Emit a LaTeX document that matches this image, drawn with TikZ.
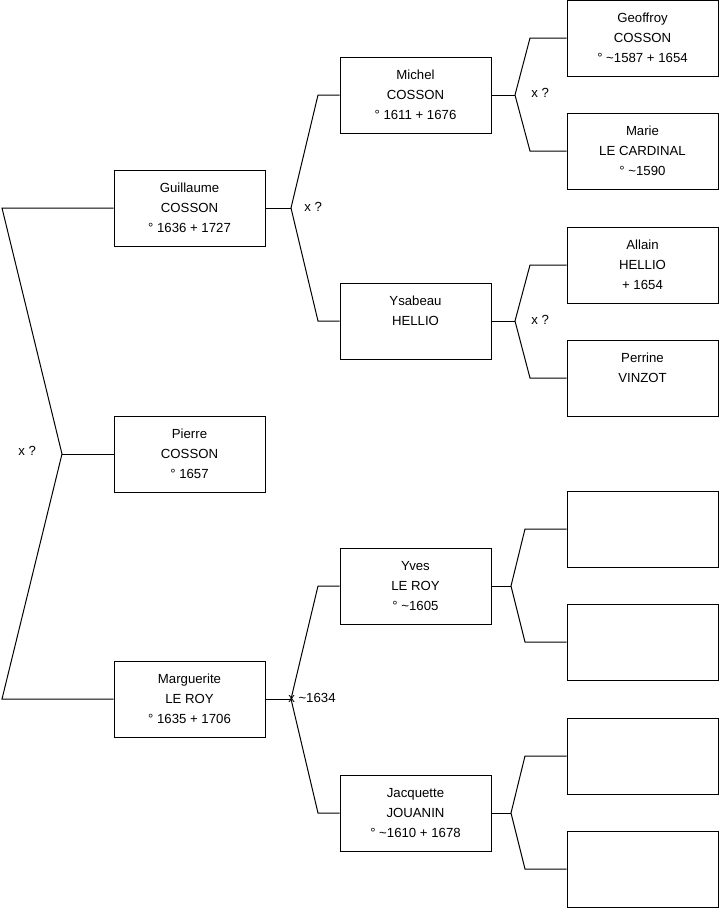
\documentclass[tikz,border=0pt]{standalone}
\usepackage{fontspec}
\setmainfont{Liberation Sans}
\begin{document}
\begin{tikzpicture}[x=0.75pt,y=-0.75pt,
  person/.style={draw=black,line width=0.75pt,fill=white,minimum width=113.25pt,minimum height=57pt,inner sep=0pt,align=center,font=\fontsize{9.9}{15}\selectfont},
  link/.style={draw=black,line width=0.75pt,line join=miter},
  lbl/.style={anchor=west,inner sep=0pt,font=\fontsize{9.9}{12}\selectfont}]
\useasboundingbox (0,0) rectangle (719,908);
% level 1
\node[person] (guil) at (189.5,208) {Guillaume\\COSSON\\° 1636 + 1727};
\node[person] (pier) at (189.5,454) {Pierre\\COSSON\\° 1657};
\node[person] (marg) at (189.5,699) {Marguerite\\LE ROY\\° 1635 + 1706};
% level 2
\node[person] (mich) at (415.5,95) {Michel\\COSSON\\° 1611 + 1676};
\node[person] (ysab) at (415.5,321) {Ysabeau\\HELLIO\\\mbox{}};
\node[person] (yves) at (415.5,586) {Yves\\LE ROY\\° \textasciitilde1605};
\node[person] (jacq) at (415.5,813) {Jacquette\\JOUANIN\\° \textasciitilde1610 + 1678};
% level 3
\node[person] (geof) at (642.5,38) {Geoffroy\\COSSON\\° \textasciitilde1587 + 1654};
\node[person] (mari) at (642.5,151) {Marie\\LE CARDINAL\\° \textasciitilde1590};
\node[person] (alla) at (642.5,265) {Allain\\HELLIO\\ + 1654};
\node[person] (perr) at (642.5,378) {Perrine\\VINZOT\\\mbox{}};
\node[person] (e1) at (642.5,529) {};
\node[person] (e2) at (642.5,642) {};
\node[person] (e3) at (642.5,756) {};
\node[person] (e4) at (642.5,869) {};
% fork 0
\coordinate (v0) at (62,454);
\coordinate (a0) at (2,208);
\coordinate (b0) at (2,699);
\draw[link] (guil.west) -- (a0) -- (v0) -- (b0) -- (marg.west);
\draw[link] (v0) -- (pier.west);
\node[lbl] (l0) at (18,451) {x ?};
% fork guil
\coordinate (v1) at (291,208);
\coordinate (a1) at (318,95);
\coordinate (b1) at (318,321);
\draw[link] (mich.west) -- (a1) -- (v1) -- (b1) -- (ysab.west);
\draw[link] (guil.east) -- (v1);
\node[lbl] (l1) at (304,207) {x ?};
% fork marg
\coordinate (v2) at (291,699);
\coordinate (a2) at (318,586);
\coordinate (b2) at (318,813);
\draw[link] (yves.west) -- (a2) -- (v2) -- (b2) -- (jacq.west);
\draw[link] (marg.east) -- (v2);
\node[lbl] (l2) at (288,698) {x \textasciitilde1634};
% fork mich
\coordinate (v3) at (515,95);
\coordinate (a3) at (530,38);
\coordinate (b3) at (530,151);
\draw[link] (geof.west) -- (a3) -- (v3) -- (b3) -- (mari.west);
\draw[link] (mich.east) -- (v3);
\node[lbl] (l3) at (531,93) {x ?};
% fork ysab
\coordinate (v4) at (515,321);
\coordinate (a4) at (530,265);
\coordinate (b4) at (530,378);
\draw[link] (alla.west) -- (a4) -- (v4) -- (b4) -- (perr.west);
\draw[link] (ysab.east) -- (v4);
\node[lbl] (l4) at (531,320) {x ?};
% fork yves
\coordinate (v5) at (511,586);
\coordinate (a5) at (525,529);
\coordinate (b5) at (525,642);
\draw[link] (e1.west) -- (a5) -- (v5) -- (b5) -- (e2.west);
\draw[link] (yves.east) -- (v5);
% fork jacq
\coordinate (v6) at (511,813);
\coordinate (a6) at (525,756);
\coordinate (b6) at (525,869);
\draw[link] (e3.west) -- (a6) -- (v6) -- (b6) -- (e4.west);
\draw[link] (jacq.east) -- (v6);
\end{tikzpicture}
\end{document}
